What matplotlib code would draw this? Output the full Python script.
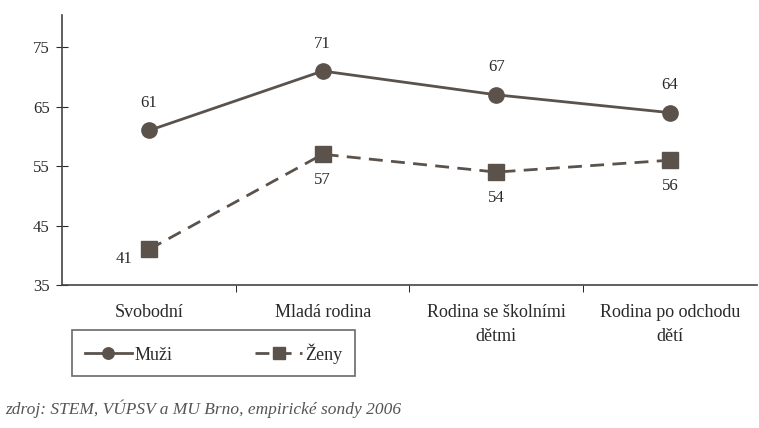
import matplotlib
matplotlib.use("Agg")
import matplotlib.pyplot as plt
import numpy as np

# data
categories = ["Svobodní", "Mladá rodina", "Rodina se školními\ndětmi", "Rodina po odchodu\ndětí"]
muzi = [61, 71, 67, 64]
zeny = [41, 57, 54, 56]
yticks = [35, 45, 55, 65, 75]

plt.rcParams['font.family'] = ['Liberation Serif', 'DejaVu Serif']
col = "#5b524c"
txt = "#2a2a2a"

fig = plt.figure(figsize=(7.59, 4.28), dpi=100)
ax = fig.add_axes([0.082, 0.334, 0.915, 0.632])
x = np.arange(len(categories))

l1, = ax.plot(x, muzi, "-", color=col, lw=2, marker="o", ms=11, label="Muži")
l2, = ax.plot(x, zeny, color=col, lw=2, ls=(0, (5, 3)), marker="s", ms=12, label="Ženy")

# value labels
for xi, v in zip(x, muzi):
    ax.annotate(str(v), (xi, v), xytext=(0, 14), textcoords="offset points",
                ha="center", va="bottom", fontsize=12, color=txt)
for i, (xi, v) in enumerate(zip(x, zeny)):
    if i == 0:
        ax.annotate(str(v), (xi, v), xytext=(-12, -7), textcoords="offset points",
                    ha="right", va="center", fontsize=12, color=txt)
    else:
        ax.annotate(str(v), (xi, v), xytext=(0, -13), textcoords="offset points",
                    ha="center", va="top", fontsize=12, color=txt)

ax.set_xlim(-0.5, 3.5)
ax.set_ylim(35, 80.5)
ax.set_yticks(yticks)
ax.tick_params(axis="y", direction="inout", length=8, labelsize=12, colors=txt, pad=5)
ax.set_xticks(x)
ax.set_xticklabels(categories, fontsize=13, color=txt, linespacing=1.5)
ax.tick_params(axis="x", length=0, pad=14)
ax.set_xticks([0.5, 1.5, 2.5], minor=True)
ax.tick_params(axis="x", which="minor", direction="out", length=5)
for s in ["top", "right"]:
    ax.spines[s].set_visible(False)
for s in ["left", "bottom"]:
    ax.spines[s].set_color("#444")
    ax.spines[s].set_linewidth(1.2)

leg = fig.legend(handles=[l1, l2], loc="lower left", bbox_to_anchor=(0.083, 0.1),
                 ncol=2, fontsize=13, frameon=True, fancybox=False,
                 edgecolor="#444", handlelength=2.6, handletextpad=0.15,
                 columnspacing=4.6, borderpad=0.7, markerscale=0.75)
leg.get_frame().set_linewidth(1.2)
for t in leg.get_texts():
    t.set_color(txt)

fig.text(0.007, 0.033, "zdroj: STEM, VÚPSV a MU Brno, empirické sondy 2006",
         fontsize=12.5, style="italic", color="#555")

fig.savefig("out.png", dpi=100)
